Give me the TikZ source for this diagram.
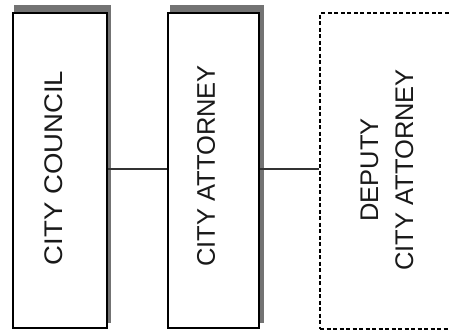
\documentclass[tikz,border=0pt]{standalone}
\usepackage{fontspec}
\setmainfont{Liberation Sans}
\begin{document}
\begin{tikzpicture}[x=1pt,y=-1pt,
  box/.style={draw=black, line width=2.2pt, fill=white, inner sep=0pt, anchor=north west},
  dashbox/.style={draw=black, line width=2.2pt, dash pattern=on 4pt off 2.5pt, inner sep=0pt, anchor=north west},
  boxshadow/.style={fill=black!55},
  title/.style={rotate=90, text=black!90, align=center, inner sep=0pt,
    font=\fontsize{25.5}{35}\selectfont},
  link/.style={draw=black!80, line width=1.4pt}]
\useasboundingbox (0,0) rectangle (450,333);
\fill[white] (0,0) rectangle (450,333);

% offset shadows behind the two solid boxes
\fill[boxshadow] (14,5) rectangle (111,323);
\fill[boxshadow] (170,5) rectangle (264,323);

% boxes
\node[box, minimum width=94pt, minimum height=315pt] (council) at (12,12) {};
\node[box, minimum width=91pt, minimum height=315pt] (attorney) at (167,12) {};
\node[dashbox, minimum width=150pt, minimum height=316pt] (deputy) at (319,12) {};

% labels
\node[title] (tcouncil) at (54,168) {\scalebox{1.08}[1]{CITY COUNCIL}};
\node[title] (tattorney) at (206,166) {CITY ATTORNEY};
\node[title] (tdeputy) at (387,170) {DEPUTY\\CITY ATTORNEY};

% connectors
\draw[link] (council.east |- 0,169) -- (attorney.west |- 0,169);
\draw[link] (attorney.east |- 0,169) -- (deputy.west |- 0,169);
\end{tikzpicture}
\end{document}
